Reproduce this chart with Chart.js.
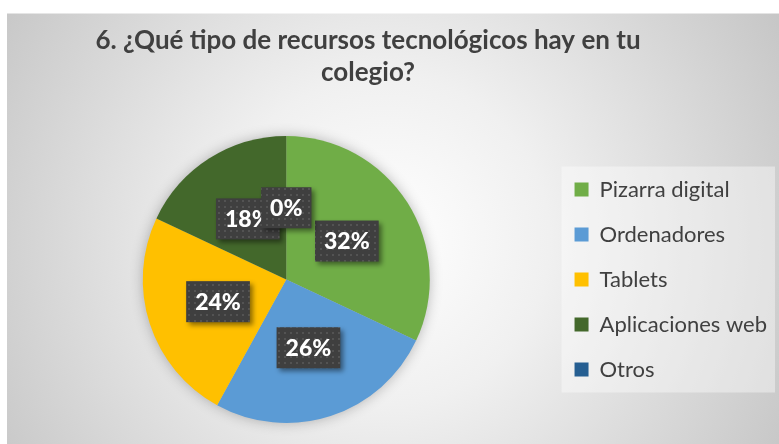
<!DOCTYPE html>
<html>
<head>
<meta charset="utf-8">
<script src="https://cdn.jsdelivr.net/npm/chart.js@4"></script>
<style>
  html, body { margin: 0; padding: 0; background: #fff; }
  #wrap { position: relative; width: 779px; height: 444px; }
</style>
</head>
<body>
<div id="wrap"><canvas id="chart" width="779" height="444"></canvas></div>
<script>
// data
const titleLines = ['6. ¿Qué tipo de recursos tecnológicos hay en tu', 'colegio?'];
const categories = ['Pizarra digital', 'Ordenadores', 'Tablets', 'Aplicaciones web', 'Otros'];
const values = [32, 26, 24, 18, 0];
const colors = ['#70AD47', '#5B9BD5', '#FFC000', '#43682B', '#255E91'];

const FONT = "Lato, 'Open Sans', sans-serif";

// dotted dark fill for the label boxes
function makeLabelPattern(ctx) {
  const p = document.createElement('canvas');
  p.width = 6; p.height = 6;
  const pc = p.getContext('2d');
  pc.fillStyle = '#3f3f3f';
  pc.fillRect(0, 0, 6, 6);
  pc.fillStyle = '#535353';
  pc.fillRect(2, 2, 2, 2);
  return ctx.createPattern(p, 'repeat');
}

const backgroundPlugin = {
  id: 'bg',
  beforeDraw(chart) {
    const { ctx, width, height } = chart;
    ctx.save();
    ctx.fillStyle = '#fff';
    ctx.fillRect(0, 0, width, height);
    const g = ctx.createRadialGradient(385, 240, 0, 385, 240, 470);
    g.addColorStop(0, '#ffffff');
    g.addColorStop(0.35, '#f0f0f0');
    g.addColorStop(1, '#c4c4c4');
    ctx.fillStyle = g;
    ctx.fillRect(7, 13, width - 7, height - 13);
    ctx.fillStyle = 'rgba(255,255,255,0.5)';
    ctx.fillRect(7, 13, width - 7, 1);

    // light panel behind the legend
    const boxes = chart.legend && chart.legend.legendHitBoxes;
    if (boxes && boxes.length) {
      const first = boxes[0], last = boxes[boxes.length - 1];
      const x0 = first.left - 13;
      const y0 = first.top + first.height / 2 - 23;
      const y1 = last.top + last.height / 2 + 23;
      ctx.fillStyle = 'rgba(255,255,255,0.4)';
      ctx.fillRect(x0, y0, 775 - x0, y1 - y0);
    }
    ctx.restore();
  },
  beforeDatasetsDraw(chart) {
    // soft shadow behind the whole pie
    const arc = chart.getDatasetMeta(0).data[0];
    if (!arc) return;
    const { ctx } = chart;
    ctx.save();
    ctx.shadowColor = 'rgba(0,0,0,0.3)';
    ctx.shadowBlur = 14;
    ctx.fillStyle = '#bbbbbb';
    ctx.beginPath();
    ctx.arc(arc.x, arc.y, arc.outerRadius - 1, 0, Math.PI * 2);
    ctx.fill();
    ctx.restore();
  },
  afterDraw(chart) {
    const { ctx } = chart;
    // title
    ctx.save();
    ctx.fillStyle = '#404040';
    ctx.font = 'bold 26px ' + FONT;
    ctx.textAlign = 'center';
    ctx.textBaseline = 'middle';
    ctx.fillText(titleLines[0], 368, 41);
    ctx.fillText(titleLines[1], 368, 73);
    ctx.restore();

    // data labels
    const total = values.reduce((a, b) => a + b, 0);
    const meta = chart.getDatasetMeta(0);
    const pattern = makeLabelPattern(ctx);
    meta.data.forEach((arc, i) => {
      const pos = arc.tooltipPosition();
      const txt = Math.round(values[i] / total * 100) + '%';
      ctx.save();
      ctx.font = '900 23px ' + FONT;
      const w = ctx.measureText(txt).width + 18;
      const h = 41;
      ctx.shadowColor = 'rgba(0,0,0,0.45)';
      ctx.shadowBlur = 5;
      ctx.shadowOffsetX = 3;
      ctx.shadowOffsetY = 3;
      ctx.fillStyle = pattern;
      ctx.fillRect(pos.x - w / 2, pos.y - h / 2, w, h);
      ctx.shadowColor = 'transparent';
      ctx.fillStyle = '#ffffff';
      ctx.textAlign = 'center';
      ctx.textBaseline = 'middle';
      ctx.fillText(txt, pos.x, pos.y + 1);
      ctx.restore();
    });
  }
};

new Chart(document.getElementById('chart'), {
  type: 'pie',
  data: {
    labels: categories,
    datasets: [{
      data: values,
      backgroundColor: colors,
      borderWidth: 0,
    }],
  },
  options: {
    responsive: false,
    animation: false,
    layout: { padding: { top: 136, bottom: 21, left: 21, right: 2 } },
    plugins: {
      title: { display: false },
      tooltip: { enabled: false },
      legend: {
        position: 'right',
        labels: {
          boxWidth: 14,
          boxHeight: 14,
          padding: 23,
          color: '#404040',
          font: { family: FONT, size: 22 },
        },
      },
    },
  },
  plugins: [backgroundPlugin],
});
</script>
</body>
</html>
